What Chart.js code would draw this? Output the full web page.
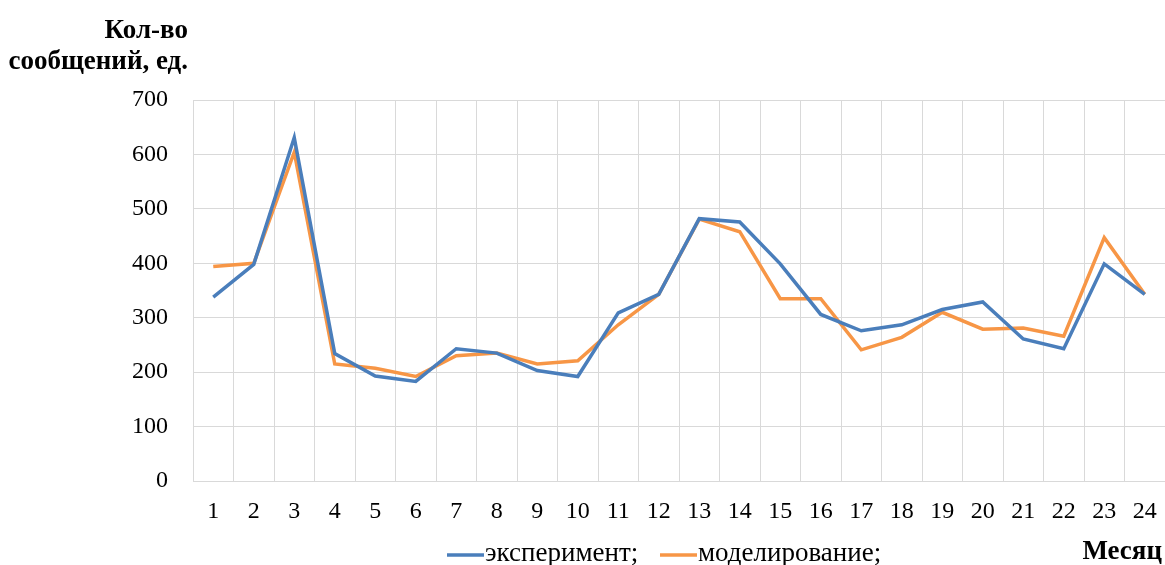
<!DOCTYPE html>
<html>
<head>
<meta charset="utf-8">
<script src="https://cdn.jsdelivr.net/npm/chart.js@4/dist/chart.umd.min.js"></script>
<style>
  html, body { margin: 0; padding: 0; background: #fff; }
  #wrap { width: 1165px; height: 565px; }
</style>
</head>
<body>
<div id="wrap"><canvas id="grafico"></canvas></div>
<script>
const meses = ['1','2','3','4','5','6','7','8','9','10','11','12','13','14','15','16','17','18','19','20','21','22','23','24']
const experimento = [338, 398, 631, 234, 193, 183, 243, 235, 203, 192, 309, 343, 482, 476, 399, 306, 276, 287, 315, 329, 261, 243, 399, 343]
const modelado = [394, 400, 604, 215, 207, 192, 230, 235, 215, 221, 287, 343, 481, 458, 335, 335, 241, 264, 310, 279, 281, 266, 447, 343]
const nombres = ['эксперимент;', 'моделирование;']
const colores = ['#4A7EBB', '#F79646']

const fuente = 'Liberation Serif, Times New Roman, serif'

// titulos y leyenda dibujados a mano
const textos = {
    id: 'textos',
    afterDraw(chart) {
        const ctx = chart.ctx
        ctx.save()
        ctx.fillStyle = '#000'
        ctx.textBaseline = 'alphabetic'
        ctx.font = 'bold 27px ' + fuente
        ctx.textAlign = 'right'
        ctx.fillText('Кол-во', 188, 38)
        ctx.fillText('сообщений, ед.', 188, 69)
        ctx.fillText('Месяц', 1162, 559)

        // leyenda
        ctx.font = '27px ' + fuente
        ctx.textAlign = 'left'
        const xs = [447, 660]
        chart.data.datasets.forEach((ds, i) => {
            ctx.strokeStyle = ds.borderColor
            ctx.lineWidth = 3.5
            ctx.beginPath()
            ctx.moveTo(xs[i], 555)
            ctx.lineTo(xs[i] + 37, 555)
            ctx.stroke()
            ctx.fillText(ds.label, xs[i] + 38, 561)
        })
        ctx.restore()
    }
}

const grafico = document.getElementById('grafico').getContext('2d')

new Chart(grafico, {
    type: 'line',
    data: {
        labels: meses,
        datasets: [{
            label: nombres[0],
            data: experimento,
            borderColor: colores[0],
            backgroundColor: colores[0],
            borderWidth: 3.5,
            pointRadius: 0,
            tension: 0
        }, {
            label: nombres[1],
            data: modelado,
            borderColor: colores[1],
            backgroundColor: colores[1],
            borderWidth: 3.5,
            pointRadius: 0,
            tension: 0
        }]
    },
    options: {
        responsive: true,
        maintainAspectRatio: false,
        animation: false,
        layout: {
            padding: { top: 100, left: 0, right: 0, bottom: 0 }
        },
        scales: {
            x: {
                offset: true,
                grid: {
                    offset: true,
                    color: '#D9D9D9',
                    lineWidth: 1,
                    drawTicks: false
                },
                border: { display: false },
                ticks: {
                    color: '#000',
                    padding: 16,
                    maxRotation: 0,
                    autoSkip: false,
                    font: { family: fuente, size: 24 }
                },
                afterFit(scale) {
                    scale.height = 84
                    scale.paddingLeft = 0
                    scale.paddingRight = 0
                }
            },
            y: {
                min: 0,
                max: 700,
                grid: {
                    color: '#D9D9D9',
                    lineWidth: 1,
                    drawTicks: false
                },
                border: { display: false },
                ticks: {
                    stepSize: 100,
                    color: '#000',
                    padding: 25,
                    font: { family: fuente, size: 24 }
                },
                afterFit(scale) { scale.width = 193 }
            }
        },
        plugins: {
            legend: { display: false },
            tooltip: { enabled: false },
            title: { display: false }
        }
    },
    plugins: [textos]
});
</script>
</body>
</html>
